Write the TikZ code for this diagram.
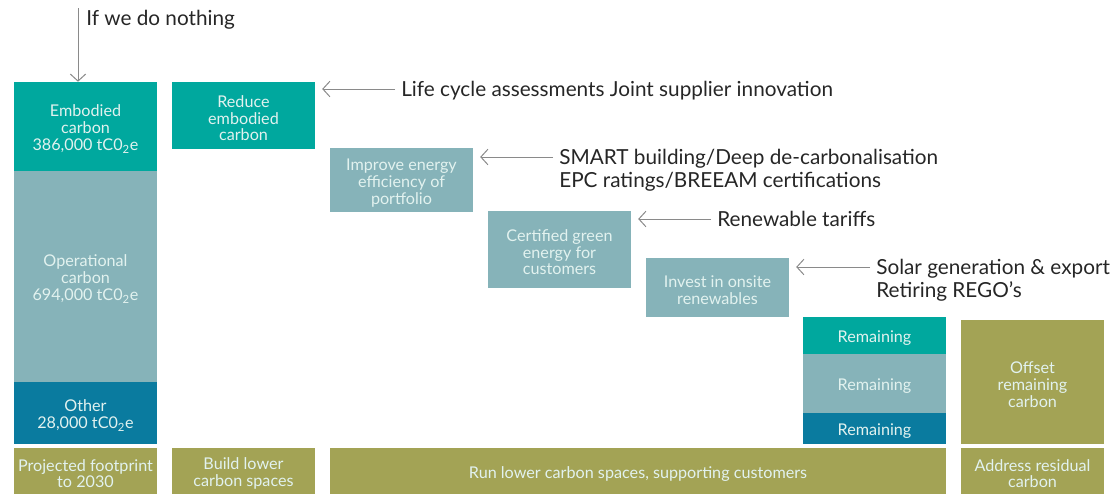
\documentclass[tikz,border=0pt]{standalone}
\usepackage{fontspec}
\setmainfont{Lato}
\usepackage{tikz}
\usetikzlibrary{positioning,arrows.meta}

\definecolor{embodiedcol}{HTML}{00A89E}
\definecolor{operationalcol}{HTML}{86B3B9}
\definecolor{othercol}{HTML}{0A7B9F}
\definecolor{actioncol}{HTML}{A3A355}
\definecolor{boxtext}{HTML}{E2F2EF}
\definecolor{notetext}{HTML}{262626}
\definecolor{pointercol}{HTML}{8A8A8A}

\newcommand{\tco}{tC0\textsubscript{2}e}
\newcommand{\lift}{\rule{0pt}{12.2pt}}

\begin{document}
\begin{tikzpicture}[x=0.025cm,y=-0.025cm]
   \useasboundingbox (0,0) rectangle (1110,494);
   \tikzstyle{block}=[inner sep=0pt, minimum width=3.575cm, text=boxtext, align=center, font=\fontsize{11.5}{12}\selectfont]
   \tikzstyle{note}=[anchor=north west, inner sep=0pt, text=notetext, align=left, font=\fontsize{14.75}{16.5}\selectfont]
   \tikzstyle{pointer}=[draw=pointercol, line width=0.7pt, -{Straight Barb[length=5pt,width=11pt]}]
   % projected footprint column
   \node[block, fill=embodiedcol, minimum height=2.225cm] (emb) at (85.5,126.5) {\lift Embodied\\carbon\\386,000 \tco};
   \node[block, fill=operationalcol, minimum height=5.275cm] (oper) at (85.5,276.5) {\lift Operational\\carbon\\694,000 \tco};
   \node[block, fill=othercol, minimum height=1.55cm] (oth) at (85.5,413) {\lift Other\\28,000 \tco};
   % reduction steps
   \node[block, fill=embodiedcol, minimum height=1.675cm] (reduce) at (243.5,115.5) {\lift Reduce\\embodied\\carbon};
   \node[block, fill=operationalcol, minimum height=1.6cm] (improve) at (401.5,180) {\lift Improve energy\\efficiency of\\portfolio};
   \node[block, fill=operationalcol, minimum height=1.925cm] (certified) at (559.5,249.5) {\lift Certified green\\energy for\\customers};
   \node[block, fill=operationalcol, minimum height=1.475cm] (invest) at (717.5,287.5) {\lift Invest in onsite\\renewables};
   % remaining stack
   \node[block, fill=embodiedcol, minimum height=0.925cm] (rememb) at (874.5,335.5) {\lift Remaining};
   \node[block, fill=operationalcol, minimum height=1.475cm] (remoper) at (874.5,383.5) {\lift Remaining};
   \node[block, fill=othercol, minimum height=0.775cm] (remoth) at (874.5,428.5) {\lift Remaining};
   \node[block, fill=actioncol, minimum height=3.1cm] (offset) at (1032.5,382) {\lift Offset\\remaining\\carbon};
   % bottom row
   \node[block, fill=actioncol, minimum height=1.15cm] (footprint) at (85.5,471) {\lift Projected footprint\\to 2030};
   \node[block, fill=actioncol, minimum height=1.15cm] (build) at (243.5,471) {\lift Build lower\\carbon spaces};
   \node[block, fill=actioncol, minimum height=1.15cm, minimum width=15.4cm] (run) at (638,471) {\lift Run lower carbon spaces, supporting customers};
   \node[block, fill=actioncol, minimum height=1.15cm] (residual) at (1032.5,471) {\lift Address residual\\carbon};
   % notes and pointers
   \coordinate (nothing) at (78,8);
   \node[note, anchor=west] (nothingtxt) at (86,20) {If we do nothing};
   \draw[pointer] (nothing) -- (nothing |- emb.north);
   \foreach \tail/\txt/\target/\y/\lines in {lca/401/reduce/89/{Life cycle assessments Joint supplier innovation},
                                           smart/559/improve/157/{SMART building/Deep de-carbonalisation\\EPC ratings/BREEAM certifications},
                                           tariff/717/certified/219/{Renewable tariffs},
                                           solar/876/invest/267/{Solar generation \& export\\Retiring REGO’s}} {
      \coordinate (\tail) at (\txt-6,\y);
      \node[note] (\tail txt) at (\txt,\y-8) {\lines};
      \draw[pointer, shorten >=7\pgflinewidth] (\tail) -- (\tail -| \target.east);
   }
\end{tikzpicture}
\end{document}
